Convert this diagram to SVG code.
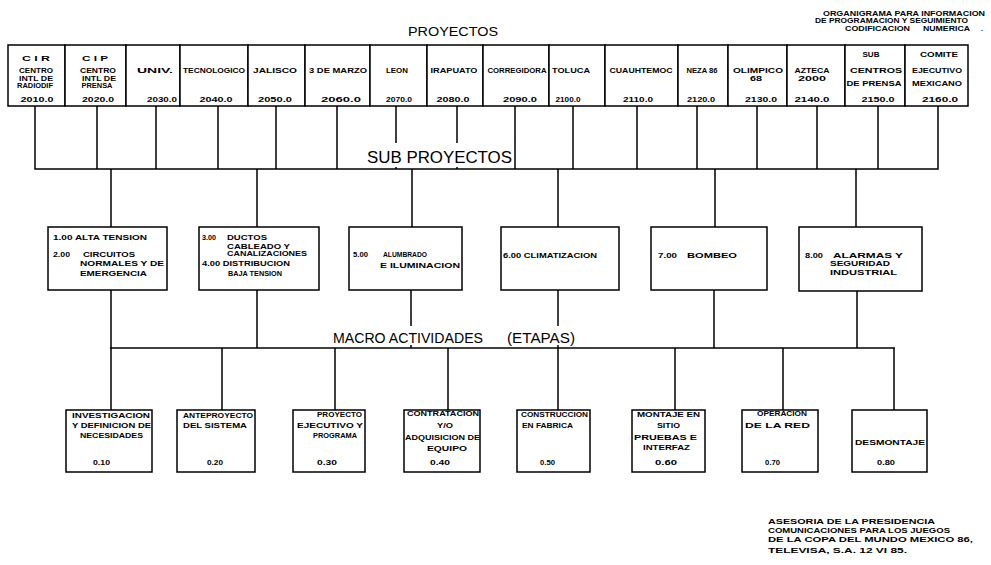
<svg xmlns="http://www.w3.org/2000/svg" width="991" height="565" viewBox="0 0 991 565">
<style>
.b{fill:#fff;stroke:#000;stroke-width:1.5}
.c{fill:none;stroke:#000;stroke-width:1.5}
.t{font-family:"Liberation Sans",Arial,sans-serif;font-weight:bold;font-size:6.5px;fill:#000}
.h{font-family:"Liberation Sans",Arial,sans-serif;fill:#000}
.m{text-anchor:middle}
</style>
<rect width="991" height="565" fill="#fff"/>
<g id="nota-titulo" class="t">
<text x="823" y="15.5" textLength="162" lengthAdjust="spacingAndGlyphs">ORGANIGRAMA PARA INFORMACION</text>
<text x="815" y="22.5" textLength="153" lengthAdjust="spacingAndGlyphs">DE PROGRAMACION Y SEGUIMIENTO</text>
<text x="845" y="30.5" textLength="65" lengthAdjust="spacingAndGlyphs">CODIFICACION</text>
<text x="923" y="30.5" textLength="47" lengthAdjust="spacingAndGlyphs">NUMERICA</text>
<text x="981" y="30.5">.</text>
</g>
<text id="titulo-proyectos" class="h" x="408" y="35.5" font-size="12" textLength="90" lengthAdjust="spacingAndGlyphs">PROYECTOS</text>
<g id="connectors" class="c">
<path d="M111 169V227M257 169V227M412 169V227M558 169V227M715 169V227M856 169V227"/>
<path d="M111 290V410M257 290V348M411 290V348M558 290V410M714 290V348M857 290V348"/>
<path d="M110 348H895"/>
<path d="M222 348V410M335 348V410M448 348V410M675 348V410M783 348V410M894 348V410"/>
</g>
<g id="proyectos" class="t">
<g id="p2010"><rect class="b" x="8" y="45" width="57" height="61"/><text class="m" x="36" y="61" textLength="28" lengthAdjust="spacingAndGlyphs">C I R</text><text class="m" x="36" y="72.5" textLength="34" lengthAdjust="spacingAndGlyphs">CENTRO</text><text class="m" x="36" y="80.5" textLength="34" lengthAdjust="spacingAndGlyphs">INTL DE</text><text class="m" x="35" y="87.5" textLength="36" lengthAdjust="spacingAndGlyphs">RADIODIF</text><text class="m" x="37" y="102" textLength="33" lengthAdjust="spacingAndGlyphs">2010.0</text></g>
<g id="p2020"><rect class="b" x="65" y="45" width="61" height="61"/><text class="m" x="95" y="61" textLength="26" lengthAdjust="spacingAndGlyphs">C I P</text><text class="m" x="98" y="72.5" textLength="36" lengthAdjust="spacingAndGlyphs">CENTRO</text><text class="m" x="99" y="80.5" textLength="34" lengthAdjust="spacingAndGlyphs">INTL DE</text><text class="m" x="97" y="87.5" textLength="31" lengthAdjust="spacingAndGlyphs">PRENSA</text><text class="m" x="98" y="102" textLength="32" lengthAdjust="spacingAndGlyphs">2020.0</text></g>
<g id="p2030"><rect class="b" x="126" y="45" width="54" height="61"/><text class="m" x="155" y="72.5" textLength="36" lengthAdjust="spacingAndGlyphs">UNIV.</text><text class="m" x="162" y="102" textLength="30" lengthAdjust="spacingAndGlyphs">2030.0</text></g>
<g id="p2040"><rect class="b" x="180" y="45" width="68" height="61"/><text class="m" x="214" y="72.5" textLength="62" lengthAdjust="spacingAndGlyphs">TECNOLOGICO</text><text class="m" x="216" y="102" textLength="33" lengthAdjust="spacingAndGlyphs">2040.0</text></g>
<g id="p2050"><rect class="b" x="248" y="45" width="57" height="61"/><text class="m" x="275" y="72.5" textLength="44" lengthAdjust="spacingAndGlyphs">JALISCO</text><text class="m" x="275" y="102" textLength="34" lengthAdjust="spacingAndGlyphs">2050.0</text></g>
<g id="p2060"><rect class="b" x="305" y="45" width="65" height="61"/><text class="m" x="338" y="72.5" textLength="58" lengthAdjust="spacingAndGlyphs">3 DE MARZO</text><text class="m" x="341" y="102" textLength="40" lengthAdjust="spacingAndGlyphs">2060.0</text></g>
<g id="p2070"><rect class="b" x="370" y="45" width="57" height="61"/><text class="m" x="397" y="72.5" textLength="22" lengthAdjust="spacingAndGlyphs">LEON</text><text class="m" x="399" y="102" textLength="26" lengthAdjust="spacingAndGlyphs">2070.0</text></g>
<g id="p2080"><rect class="b" x="427" y="45" width="56" height="61"/><text class="m" x="454" y="72.5" textLength="47" lengthAdjust="spacingAndGlyphs">IRAPUATO</text><text class="m" x="453" y="102" textLength="33" lengthAdjust="spacingAndGlyphs">2080.0</text></g>
<g id="p2090"><rect class="b" x="483" y="45" width="66" height="61"/><text class="m" x="517" y="72.5" textLength="59" lengthAdjust="spacingAndGlyphs">CORREGIDORA</text><text class="m" x="520" y="102" textLength="34" lengthAdjust="spacingAndGlyphs">2090.0</text></g>
<g id="p2100"><rect class="b" x="549" y="45" width="56" height="61"/><text class="m" x="571" y="72.5" textLength="38" lengthAdjust="spacingAndGlyphs">TOLUCA</text><text class="m" x="568" y="102" textLength="25" lengthAdjust="spacingAndGlyphs">2100.0</text></g>
<g id="p2110"><rect class="b" x="605" y="45" width="73" height="61"/><text class="m" x="641" y="72.5" textLength="63" lengthAdjust="spacingAndGlyphs">CUAUHTEMOC</text><text class="m" x="638" y="102" textLength="30" lengthAdjust="spacingAndGlyphs">2110.0</text></g>
<g id="p2120"><rect class="b" x="678" y="45" width="50" height="61"/><text class="m" x="702" y="72.5" textLength="31" lengthAdjust="spacingAndGlyphs">NEZA 86</text><text class="m" x="701" y="102" textLength="28" lengthAdjust="spacingAndGlyphs">2120.0</text></g>
<g id="p2130"><rect class="b" x="728" y="45" width="59" height="61"/><text class="m" x="758" y="72.5" textLength="50" lengthAdjust="spacingAndGlyphs">OLIMPICO</text><text class="m" x="756" y="80.5" textLength="12" lengthAdjust="spacingAndGlyphs">68</text><text class="m" x="761" y="102" textLength="32" lengthAdjust="spacingAndGlyphs">2130.0</text></g>
<g id="p2140"><rect class="b" x="787" y="45" width="58" height="61"/><text class="m" x="812" y="72.5" textLength="35" lengthAdjust="spacingAndGlyphs">AZTECA</text><text class="m" x="812" y="80.5" textLength="28" lengthAdjust="spacingAndGlyphs">2000</text><text class="m" x="812" y="102" textLength="35" lengthAdjust="spacingAndGlyphs">2140.0</text></g>
<g id="p2150"><rect class="b" x="845" y="45" width="60" height="61"/><text class="m" x="871" y="56.5" textLength="17" lengthAdjust="spacingAndGlyphs">SUB</text><text class="m" x="876" y="72.5" textLength="52" lengthAdjust="spacingAndGlyphs">CENTROS</text><text class="m" x="874" y="85.5" textLength="55" lengthAdjust="spacingAndGlyphs">DE PRENSA</text><text class="m" x="878" y="102" textLength="33" lengthAdjust="spacingAndGlyphs">2150.0</text></g>
<g id="p2160"><rect class="b" x="905" y="45" width="63" height="61"/><text class="m" x="939" y="56.5" textLength="38" lengthAdjust="spacingAndGlyphs">COMITE</text><text class="m" x="937" y="72.5" textLength="50" lengthAdjust="spacingAndGlyphs">EJECUTIVO</text><text class="m" x="937" y="85.5" textLength="50" lengthAdjust="spacingAndGlyphs">MEXICANO</text><text class="m" x="940" y="102" textLength="36" lengthAdjust="spacingAndGlyphs">2160.0</text></g>
</g>
<g id="sub-proyectos">
<g class="c"><path d="M35 106V169H938V106M97 106V169M156 106V169M218 106V169M276 106V169M337 106V169M396 106V169M457 106V169M515 106V169M573 106V169M637 106V169M697 106V169M757 106V169M817 106V169M878 106V169"/></g>
<rect x="364" y="143" width="150" height="24" fill="#fff"/>
<text class="h" x="367" y="163" font-size="16" textLength="145" lengthAdjust="spacingAndGlyphs">SUB PROYECTOS</text>
</g>
<g id="sp1" class="t"><rect class="b" x="48" y="227" width="119" height="63"/><text x="53" y="239.5" textLength="94" lengthAdjust="spacingAndGlyphs">1.00 ALTA TENSION</text><text x="53" y="257" textLength="17" lengthAdjust="spacingAndGlyphs">2.00</text><text x="83" y="257" textLength="52" lengthAdjust="spacingAndGlyphs">CIRCUITOS</text><text x="80" y="266" textLength="84" lengthAdjust="spacingAndGlyphs">NORMALES Y DE</text><text x="80" y="275.5" textLength="67" lengthAdjust="spacingAndGlyphs">EMERGENCIA</text></g>
<g id="sp2" class="t"><rect class="b" x="199" y="227" width="120" height="63"/><text x="202" y="239.5" textLength="14" lengthAdjust="spacingAndGlyphs">3.00</text><text x="227" y="239.5" textLength="40" lengthAdjust="spacingAndGlyphs">DUCTOS</text><text x="227" y="248.5" textLength="63" lengthAdjust="spacingAndGlyphs">CABLEADO Y</text><text x="227" y="255.5" textLength="80" lengthAdjust="spacingAndGlyphs">CANALIZACIONES</text><text x="202" y="265.5" textLength="88" lengthAdjust="spacingAndGlyphs">4.00 DISTRIBUCION</text><text x="228" y="275.5" textLength="54" lengthAdjust="spacingAndGlyphs">BAJA TENSION</text></g>
<g id="sp3" class="t"><rect class="b" x="349" y="227" width="113" height="63"/><text x="353" y="256.5" textLength="15" lengthAdjust="spacingAndGlyphs">5.00</text><text x="383" y="256.5" textLength="44" lengthAdjust="spacingAndGlyphs">ALUMBRADO</text><text x="380" y="267.5" textLength="80" lengthAdjust="spacingAndGlyphs">E ILUMINACION</text></g>
<g id="sp4" class="t"><rect class="b" x="501" y="227" width="118" height="63"/><text x="503" y="257.5" textLength="94" lengthAdjust="spacingAndGlyphs">6.00 CLIMATIZACION</text></g>
<g id="sp5" class="t"><rect class="b" x="651" y="227" width="116" height="63"/><text x="658" y="257.5" textLength="19" lengthAdjust="spacingAndGlyphs">7.00</text><text x="687" y="257.5" textLength="50" lengthAdjust="spacingAndGlyphs">BOMBEO</text></g>
<g id="sp6" class="t"><rect class="b" x="799" y="227" width="123" height="64"/><text x="805" y="257.5" textLength="18" lengthAdjust="spacingAndGlyphs">8.00</text><text x="833" y="257.5" textLength="70" lengthAdjust="spacingAndGlyphs">ALARMAS Y</text><text x="830" y="265.5" textLength="60" lengthAdjust="spacingAndGlyphs">SEGURIDAD</text><text x="830" y="274.5" textLength="67" lengthAdjust="spacingAndGlyphs">INDUSTRIAL</text></g>
<g id="titulo-macro">
<rect x="330" y="326" width="250" height="19" fill="#fff"/>
<text class="h" x="333" y="343" font-size="14" textLength="150" lengthAdjust="spacingAndGlyphs">MACRO ACTIVIDADES</text>
<text class="h" x="507" y="343" font-size="14" textLength="68" lengthAdjust="spacingAndGlyphs">(ETAPAS)</text>
</g>
<g id="ma010" class="t"><rect class="b" x="66" y="410" width="86" height="62"/><text x="72" y="417.5" textLength="78" lengthAdjust="spacingAndGlyphs">INVESTIGACION</text><text x="72" y="427.5" textLength="79" lengthAdjust="spacingAndGlyphs">Y DEFINICION DE</text><text x="80" y="437.5" textLength="63" lengthAdjust="spacingAndGlyphs">NECESIDADES</text><text x="93" y="464.5" textLength="17" lengthAdjust="spacingAndGlyphs">0.10</text></g>
<g id="ma020" class="t"><rect class="b" x="177" y="410" width="78" height="62"/><text x="183" y="417.5" textLength="70" lengthAdjust="spacingAndGlyphs">ANTEPROYECTO</text><text x="183" y="427.5" textLength="64" lengthAdjust="spacingAndGlyphs">DEL SISTEMA</text><text x="207" y="464.5" textLength="16" lengthAdjust="spacingAndGlyphs">0.20</text></g>
<g id="ma030" class="t"><rect class="b" x="293" y="410" width="72" height="62"/><text x="317" y="416.5" textLength="45" lengthAdjust="spacingAndGlyphs">PROYECTO</text><text x="297" y="427.5" textLength="66" lengthAdjust="spacingAndGlyphs">EJECUTIVO Y</text><text x="313" y="437.5" textLength="44" lengthAdjust="spacingAndGlyphs">PROGRAMA</text><text x="317" y="464.5" textLength="20" lengthAdjust="spacingAndGlyphs">0.30</text></g>
<g id="ma040" class="t"><rect class="b" x="404" y="410" width="76" height="62"/><text x="407" y="415.5" textLength="72" lengthAdjust="spacingAndGlyphs">CONTRATACION</text><text x="437" y="427.5" textLength="16" lengthAdjust="spacingAndGlyphs">Y/O</text><text x="405" y="439.5" textLength="75" lengthAdjust="spacingAndGlyphs">ADQUISICION DE</text><text x="427" y="450.5" textLength="40" lengthAdjust="spacingAndGlyphs">EQUIPO</text><text x="430" y="464.5" textLength="20" lengthAdjust="spacingAndGlyphs">0.40</text></g>
<g id="ma050" class="t"><rect class="b" x="517" y="410" width="73" height="62"/><text x="521" y="416.5" textLength="67" lengthAdjust="spacingAndGlyphs">CONSTRUCCION</text><text x="522" y="427.5" textLength="51" lengthAdjust="spacingAndGlyphs">EN FABRICA</text><text x="540" y="464.5" textLength="15" lengthAdjust="spacingAndGlyphs">0.50</text></g>
<g id="ma060" class="t"><rect class="b" x="632" y="410" width="73" height="62"/><text x="637" y="416.5" textLength="63" lengthAdjust="spacingAndGlyphs">MONTAJE EN</text><text x="657" y="427.5" textLength="23" lengthAdjust="spacingAndGlyphs">SITIO</text><text x="634" y="439.5" textLength="63" lengthAdjust="spacingAndGlyphs">PRUEBAS E</text><text x="643" y="449.5" textLength="47" lengthAdjust="spacingAndGlyphs">INTERFAZ</text><text x="655" y="464.5" textLength="22" lengthAdjust="spacingAndGlyphs">0.60</text></g>
<g id="ma070" class="t"><rect class="b" x="742" y="410" width="76" height="62"/><text x="757" y="415.5" textLength="50" lengthAdjust="spacingAndGlyphs">OPERACION</text><text x="745" y="427.5" textLength="65" lengthAdjust="spacingAndGlyphs">DE LA RED</text><text x="765" y="464.5" textLength="15" lengthAdjust="spacingAndGlyphs">0.70</text></g>
<g id="ma080" class="t"><rect class="b" x="852" y="410" width="75" height="62"/><text x="855" y="444.5" textLength="70" lengthAdjust="spacingAndGlyphs">DESMONTAJE</text><text x="877" y="464.5" textLength="18" lengthAdjust="spacingAndGlyphs">0.80</text></g>
<g id="nota-pie" class="t">
<text x="768" y="523.5" textLength="167" lengthAdjust="spacingAndGlyphs">ASESORIA DE LA PRESIDENCIA</text>
<text x="768" y="532.5" textLength="182" lengthAdjust="spacingAndGlyphs">COMUNICACIONES PARA LOS JUEGOS</text>
<text x="768" y="541.5" textLength="205" lengthAdjust="spacingAndGlyphs">DE LA COPA DEL MUNDO MEXICO 86,</text>
<text x="768" y="552.5" textLength="139" lengthAdjust="spacingAndGlyphs">TELEVISA, S.A. 12 VI 85.</text>
</g>
</svg>
